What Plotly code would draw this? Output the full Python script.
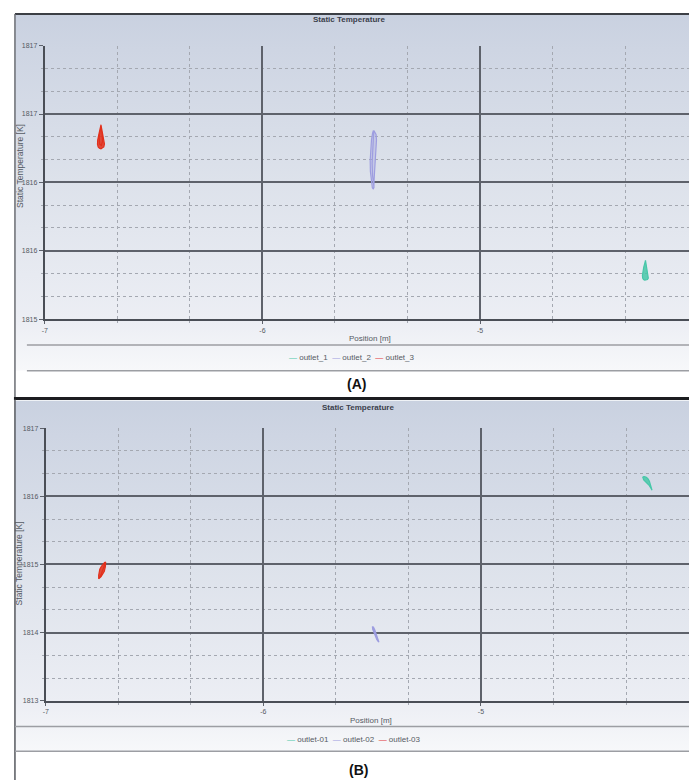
import base64
import plotly.graph_objects as go

W, H = 689, 783

# ---- tick labels -------------------------------------------------------
x_ticks = [-7, -6, -5]
x_tick_labels = ["-7", "-6", "-5"]

y_ticks_a = [1815, 1815.5, 1816, 1816.5, 1817]
y_tick_labels_a = ["1815", "1816", "1816", "1817", "1817"]

y_ticks_b = [1813, 1814, 1815, 1816, 1817]
y_tick_labels_b = ["1813", "1814", "1815", "1816", "1817"]

# ---- series names / colours -------------------------------------------
names_a = ["outlet_1", "outlet_2", "outlet_3"]
names_b = ["outlet-01", "outlet-02", "outlet-03"]
series_colors = ["#46c7a8", "#9d9de0", "#e2301c"]
series_fills = ["rgba(70,199,168,0.85)", "rgba(157,157,224,0.35)",
                "rgba(226,48,28,0.85)"]

# ---- monitor traces, case (A) -----------------------------------------
a1_x = [-4.240, -4.237, -4.232, -4.228, -4.226, -4.227, -4.231, -4.237,
        -4.243, -4.249, -4.253, -4.254, -4.252, -4.248, -4.243, -4.240]
a1_y = [1815.43, 1815.40, 1815.36, 1815.33, 1815.31, 1815.30, 1815.29,
        1815.285, 1815.285, 1815.29, 1815.30, 1815.32, 1815.35, 1815.38,
        1815.41, 1815.43]

a2_x = [-5.490, -5.494, -5.499, -5.503, -5.505, -5.504, -5.500, -5.495,
        -5.490, -5.488, -5.487, -5.484, -5.480, -5.477, -5.476, -5.478,
        -5.483, -5.488, -5.490, -5.494, -5.496, -5.494, -5.490, -5.487]
a2_y = [1816.38, 1816.36, 1816.31, 1816.24, 1816.16, 1816.08, 1816.01,
        1815.96, 1815.95, 1815.97, 1816.02, 1816.10, 1816.18, 1816.25,
        1816.31, 1816.35, 1816.37, 1816.38, 1816.33, 1816.24, 1816.14,
        1816.05, 1815.99, 1815.96]

a3_x = [-6.742, -6.738, -6.732, -6.727, -6.726, -6.729, -6.735, -6.742,
        -6.749, -6.755, -6.758, -6.757, -6.752, -6.746, -6.742, -6.737,
        -6.735, -6.740, -6.748, -6.750, -6.746, -6.742]
a3_y = [1816.42, 1816.39, 1816.35, 1816.31, 1816.28, 1816.26, 1816.25,
        1816.245, 1816.25, 1816.26, 1816.28, 1816.31, 1816.35, 1816.39,
        1816.42, 1816.36, 1816.30, 1816.27, 1816.28, 1816.33, 1816.38,
        1816.42]

# ---- monitor traces, case (B) -----------------------------------------
b1_x = [-4.257, -4.249, -4.240, -4.233, -4.226, -4.220, -4.214, -4.219,
        -4.227, -4.237, -4.246, -4.252, -4.257]
b1_y = [1816.285, 1816.29, 1816.28, 1816.26, 1816.22, 1816.16, 1816.09,
        1816.12, 1816.16, 1816.19, 1816.21, 1816.24, 1816.285]

b2_x = [-5.499, -5.494, -5.488, -5.482, -5.476, -5.471, -5.469, -5.473,
        -5.479, -5.486, -5.493, -5.498, -5.499, -5.490, -5.481]
b2_y = [1814.09, 1814.08, 1814.04, 1813.98, 1813.92, 1813.88, 1813.86,
        1813.87, 1813.90, 1813.95, 1814.00, 1814.05, 1814.09, 1814.02,
        1813.93]

b3_x = [-6.725, -6.726, -6.731, -6.738, -6.746, -6.753, -6.757, -6.757,
        -6.752, -6.745, -6.737, -6.730, -6.725, -6.735, -6.745, -6.752]
b3_y = [1815.036, 1814.97, 1814.90, 1814.86, 1814.82, 1814.80, 1814.79,
        1814.84, 1814.93, 1814.97, 1815.01, 1815.03, 1815.036, 1814.93,
        1814.86, 1814.81]


def px(x):
    return x / W


def py(y):
    return 1 - y / H


FONT = "Liberation Sans"
MAJOR = "#5e626b"
MINOR = "#a4a8b1"
LABEL = "#555a63"

fig = go.Figure()

panels = [
    ("x", "y", [(a1_x, a1_y), (a2_x, a2_y), (a3_x, a3_y)], names_a),
    ("x2", "y2", [(b1_x, b1_y), (b2_x, b2_y), (b3_x, b3_y)], names_b),
]
for xa, ya, series, names in panels:
    for (sx, sy), name, col, fc in zip(series, names, series_colors,
                                       series_fills):
        fig.add_trace(go.Scatter(
            x=sx, y=sy, name=name, mode="lines", xaxis=xa, yaxis=ya,
            line=dict(color=col, width=1.2), fill="toself",
            fillcolor=fc, showlegend=False, hoverinfo="x+y+name"))


def x_axis(domain, rng, anchor):
    return dict(
        domain=domain, range=rng, anchor=anchor, fixedrange=True,
        tickmode="array", tickvals=x_ticks, ticktext=x_tick_labels,
        tickfont=dict(family=FONT, size=7, color=LABEL),
        ticks="outside", ticklen=3, tickcolor=MAJOR, tickwidth=1,
        showline=True, linecolor="#4a4e56", linewidth=2,
        showgrid=True, gridcolor=MAJOR, gridwidth=1.5, zeroline=False,
        minor=dict(tickmode="linear", tick0=-7, dtick=1 / 3,
                   showgrid=True, gridcolor=MINOR, griddash="dot",
                   gridwidth=1, ticks="outside", ticklen=2, tickcolor=MINOR),
    )


def y_axis(domain, rng, anchor, vals, labels, minor_step):
    return dict(
        domain=domain, range=rng, anchor=anchor, fixedrange=True,
        tickmode="array", tickvals=vals, ticktext=labels,
        tickfont=dict(family=FONT, size=7, color=LABEL),
        ticks="outside", ticklen=4, tickcolor=MAJOR, tickwidth=1,
        showline=True, linecolor="#4a4e56", linewidth=2,
        showgrid=True, gridcolor=MAJOR, gridwidth=1.5, zeroline=False,
        minor=dict(tickmode="linear", tick0=rng[0], dtick=minor_step,
                   showgrid=True, gridcolor=MINOR, griddash="dot",
                   gridwidth=1, ticks="outside", ticklen=2, tickcolor=MINOR),
    )


def gradient_uri(stops):
    body = "".join(
        f'<stop offset="{o}" stop-color="{c}"/>' for o, c in stops)
    svg = ('<svg xmlns="http://www.w3.org/2000/svg" width="100" height="100" '
           'preserveAspectRatio="none"><defs><linearGradient id="g" x1="0" '
           f'y1="0" x2="0" y2="1">{body}</linearGradient></defs>'
           '<rect width="100" height="100" fill="url(#g)"/></svg>')
    return "data:image/svg+xml;base64," + base64.b64encode(svg.encode()).decode()


bg_stops = [(0, "#c9d1e0"), (0.1, "#ced5e3"), (0.47, "#dde2eb"),
            (0.86, "#eceef4"), (1, "#f7f8fa")]

images = [
    dict(source=gradient_uri(bg_stops), xref="paper", yref="paper",
         x=px(12), y=py(10), sizex=px(W - 12), sizey=(370 - 10) / H,
         xanchor="left", yanchor="top", sizing="stretch", layer="below"),
    dict(source=gradient_uri(bg_stops), xref="paper", yref="paper",
         x=px(12), y=py(400), sizex=px(W - 12), sizey=(754 - 400) / H,
         xanchor="left", yanchor="top", sizing="stretch", layer="below"),
]


def hline(y, x0, x1, color, width):
    return dict(type="line", xref="paper", yref="paper", x0=px(x0), x1=px(x1),
                y0=py(y), y1=py(y), line=dict(color=color, width=width))


def vline(x, y0, y1, color, width):
    return dict(type="line", xref="paper", yref="paper", x0=px(x), x1=px(x),
                y0=py(y0), y1=py(y1), line=dict(color=color, width=width))


shapes = [
    hline(10, 12, W, "#3c3f45", 2),
    vline(12, 10, 397, "#6a6d73", 1.5),
    hline(344, 24, W, "#9c9ea3", 1.5),
    hline(370, 24, W, "#9c9ea3", 1.5),
    hline(398, 11, W, "#1c1d20", 3),
    vline(12, 399, H, "#55585e", 1.5),
    hline(729, 12, W, "#9c9ea3", 1.5),
    hline(754, 12, W, "#9c9ea3", 1.5),
]


def text(x, y, s, size, color=LABEL, bold=False, angle=0):
    return dict(xref="paper", yref="paper", x=px(x), y=py(y), text=s,
                showarrow=False, xanchor="center", yanchor="middle",
                textangle=angle,
                font=dict(family=FONT, size=size, color=color,
                          weight="bold" if bold else "normal"))


def legend_text(names):
    parts = [f'<span style="color:{c}">—</span> {n}'
             for n, c in zip(names, series_colors)]
    return "  ".join(parts)


annotations = [
    text(348, 16, "Static Temperature", 8, "#3b404c", bold=True),
    text(16.5, 163, "Static Temperature [K]", 8.5, angle=-90),
    text(369, 338, "Position [m]", 8),
    text(351, 357, legend_text(names_a), 8),
    text(355, 383, "(A)", 14, "#111111", bold=True),
    text(357, 407, "Static Temperature", 8, "#3b404c", bold=True),
    text(16.5, 564, "Static Temperature [K]", 8.5, angle=-90),
    text(370, 723, "Position [m]", 8),
    text(353, 742, legend_text(names_b), 8),
    text(357, 773, "(B)", 14, "#111111", bold=True),
]

fig.update_layout(
    width=W, height=H, autosize=False,
    margin=dict(l=0, r=0, t=0, b=0),
    paper_bgcolor="white", plot_bgcolor="rgba(0,0,0,0)",
    xaxis=x_axis([px(42), 1], [-7, -4.04], "y"),
    yaxis=y_axis([py(318), py(42)], [1815, 1817], "x",
                 y_ticks_a, y_tick_labels_a, 1 / 6),
    xaxis2=x_axis([px(43), 1], [-7, -4.044], "y2"),
    yaxis2=y_axis([py(703), py(428)], [1813, 1817], "x2",
                  y_ticks_b, y_tick_labels_b, 1 / 3),
    images=images, shapes=shapes, annotations=annotations,
)

fig.write_html("out.html")
